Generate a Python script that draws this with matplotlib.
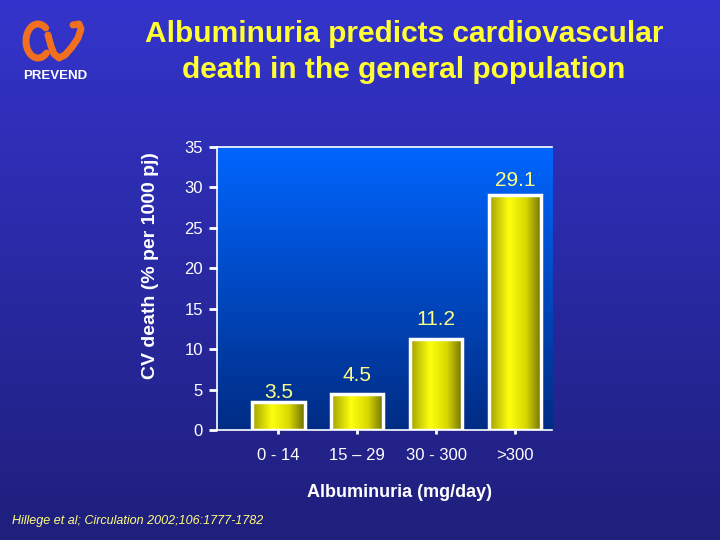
import numpy as np
import matplotlib.pyplot as plt
from matplotlib.colors import LinearSegmentedColormap

# ---- data ----
categories = ["0 - 14", "15 \u2013 29", "30 - 300", ">300"]
cv_death = [3.5, 4.5, 11.2, 29.1]
value_labels = ["3.5", "4.5", "11.2", "29.1"]
y_ticks = [0, 5, 10, 15, 20, 25, 30, 35]

plt.rcParams['font.family'] = ['Liberation Sans', 'DejaVu Sans']

fig = plt.figure(figsize=(7.2, 5.4), dpi=100)

# slide background gradient, in pixel coords
bg = fig.add_axes([0, 0, 1, 1], zorder=0)
bg_cmap = LinearSegmentedColormap.from_list("bg", ["#1f1f7c", "#3434cc"])
bg.imshow(np.linspace(1, 0, 256).reshape(-1, 1), cmap=bg_cmap, aspect="auto",
          extent=[0, 720, 540, 0], origin="upper")
bg.set_xlim(0, 720)
bg.set_ylim(540, 0)
bg.set_axis_off()

# logo (rough "CV" swirl)
logo_col = "#f07020"
t = np.radians(np.linspace(50, 315, 60))
bg.plot(38 + 12 * np.cos(t), 41 - 17 * np.sin(t), color=logo_col, lw=5,
        solid_capstyle="round")
vx = [48, 51, 54, 59, 65, 72, 78, 81, 79, 73]
vy = [35, 46, 54, 58, 55, 47, 38, 29, 24, 25]
bg.plot(vx, vy, color=logo_col, lw=5, solid_capstyle="round", solid_joinstyle="round")
bg.text(55, 76, "PREVEND", color="white", fontsize=9.5, fontweight="bold",
        ha="center", va="center")

# title
fig.text(0.561, 0.937, "Albuminuria predicts cardiovascular", color="#ffff33",
         fontsize=21.5, fontweight="bold", ha="center", va="center")
fig.text(0.561, 0.871, "death in the general population", color="#ffff33",
         fontsize=21.5, fontweight="bold", ha="center", va="center")

# ---- chart ----
ax = fig.add_axes([0.3014, 0.2037, 0.4653, 0.5241], zorder=1)
ax.set_xlim(-0.78, 3.47)
ax.set_ylim(0, 35)

plot_cmap = LinearSegmentedColormap.from_list("pa", ["#002c84", "#0066ff"])
ax.imshow(np.linspace(0, 1, 256).reshape(-1, 1), cmap=plot_cmap, aspect="auto",
          extent=[-0.78, 3.47, 0, 35], origin="lower", zorder=0)

x = np.arange(len(categories))
bars = ax.bar(x, cv_death, width=0.66, facecolor="none", edgecolor="white",
              linewidth=2.5, zorder=3)

bar_cmap = LinearSegmentedColormap.from_list(
    "bar", [(0, "#a0a000"), (0.38, "#ffff10"), (0.7, "#d8d800"), (1, "#6e6e00")])
grad = np.linspace(0, 1, 256).reshape(1, -1)
for b in bars:
    ax.imshow(grad, cmap=bar_cmap, aspect="auto", zorder=2,
              extent=[b.get_x(), b.get_x() + b.get_width(), 0, b.get_height()])

label_off = [1.1, 2.3, 2.5, 1.7]
for xi, v, lab, off in zip(x, cv_death, value_labels, label_off):
    ax.text(xi, v + off, lab, color="#ffff88", fontsize=15, ha="center", va="center", zorder=4)

ax.set_yticks(y_ticks)
ax.set_xticks(x)
ax.set_xticklabels(categories)
ax.tick_params(axis="y", colors="white", labelsize=12, length=6, width=2, pad=4)
ax.tick_params(axis="x", colors="white", labelsize=12, length=3, width=2, pad=10)

for s in ["left", "top", "bottom"]:
    ax.spines[s].set_color("white")
    ax.spines[s].set_linewidth(1.2)
ax.spines["right"].set_visible(False)

ax.set_ylabel("CV death (% per 1000 pj)", color="white", fontsize=14, fontweight="bold")
ax.yaxis.set_label_coords(-0.173, 0.58)
ax.set_xlabel("Albuminuria (mg/day)", color="white", fontsize=13, fontweight="bold")
ax.xaxis.set_label_coords(0.545, -0.19)

fig.text(0.017, 0.035, "Hillege et al; Circulation 2002;106:1777-1782", color="#ffff80",
         fontsize=9, style="italic", ha="left", va="center")

fig.savefig("out.png", dpi=100)
